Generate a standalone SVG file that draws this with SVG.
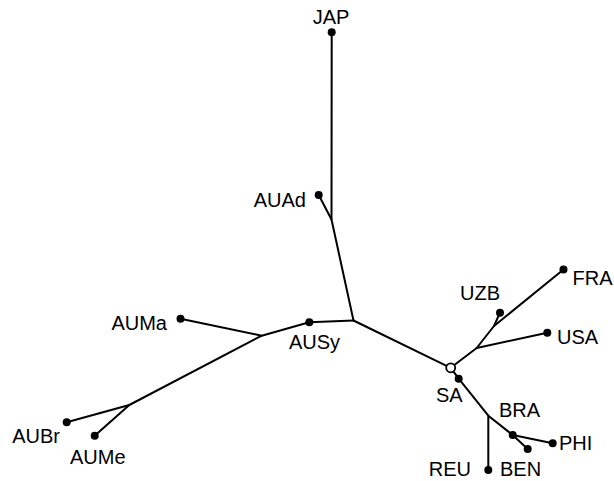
<svg xmlns="http://www.w3.org/2000/svg" width="614" height="481" viewBox="0 0 614 481">
<style>
.e{stroke:#000;stroke-width:2;fill:none;stroke-linecap:round;stroke-linejoin:round}
.d{fill:#000}
.o{fill:#fff;stroke:#000;stroke-width:1.8}
text{font-family:"Liberation Sans",Arial,sans-serif;font-size:20px;fill:#000}
</style>
<rect width="614" height="481" fill="#fff"/>
<g id="edges">
<path class="e" d="M331.7,32.3 L331.5,219.5 L353.5,320.5"/>
<path class="e" d="M318.7,195 L331.5,219.5"/>
<path class="e" d="M353.5,320.5 L309.3,322.3 L261.7,335.7 L180.5,318.7"/>
<path class="e" d="M261.7,335.7 L129.3,405 L66.7,422.3"/>
<path class="e" d="M129.3,405 L94.7,435.7"/>
<path class="e" d="M353.5,320.5 L450.7,367.8"/>
<path class="e" d="M450.7,367.8 L476.7,348 L494,326 L563.5,269.5"/>
<path class="e" d="M494,326 L500,312.7"/>
<path class="e" d="M476.7,348 L547.3,332.7"/>
<path class="e" d="M450.7,367.8 L458.7,378.7 L488.3,415.7 L512.7,435 L552.7,443.3"/>
<path class="e" d="M512.7,435 L527.7,449"/>
<path class="e" d="M488.3,415.7 L488.3,470"/>
</g>
<g id="JAP"><circle class="d" cx="331.7" cy="32.3" r="4"/><text x="331" y="24" text-anchor="middle">JAP</text></g>
<g id="AUAd"><circle class="d" cx="318.7" cy="195" r="4"/><text x="306" y="207" text-anchor="end">AUAd</text></g>
<g id="AUSy"><circle class="d" cx="309.3" cy="322.3" r="4"/><text x="289" y="349">AUSy</text></g>
<g id="AUMa"><circle class="d" cx="180.5" cy="318.7" r="4"/><text x="167" y="330" text-anchor="end">AUMa</text></g>
<g id="AUBr"><circle class="d" cx="66.7" cy="422.3" r="4"/><text x="60" y="443" text-anchor="end">AUBr</text></g>
<g id="AUMe"><circle class="d" cx="94.7" cy="435.7" r="4"/><text x="70" y="463.5">AUMe</text></g>
<g id="SA-node"><circle class="o" cx="450.7" cy="367.8" r="4.5"/></g>
<g id="SA"><circle class="d" cx="458.7" cy="378.7" r="4"/><text x="436" y="401.5">SA</text></g>
<g id="FRA"><circle class="d" cx="563.5" cy="269.5" r="4"/><text x="572.5" y="284.5">FRA</text></g>
<g id="UZB"><circle class="d" cx="500" cy="312.7" r="4"/><text x="460" y="300">UZB</text></g>
<g id="USA"><circle class="d" cx="547.3" cy="332.7" r="4"/><text x="557" y="343.5">USA</text></g>
<g id="BRA"><circle class="d" cx="512.7" cy="435" r="4"/><text x="499" y="416.5">BRA</text></g>
<g id="PHI"><circle class="d" cx="552.7" cy="443.3" r="4"/><text x="559" y="449.5">PHI</text></g>
<g id="BEN"><circle class="d" cx="527.7" cy="449" r="4"/><text x="500" y="476">BEN</text></g>
<g id="REU"><circle class="d" cx="488.3" cy="470" r="4"/><text x="471" y="476" text-anchor="end">REU</text></g>
</svg>
